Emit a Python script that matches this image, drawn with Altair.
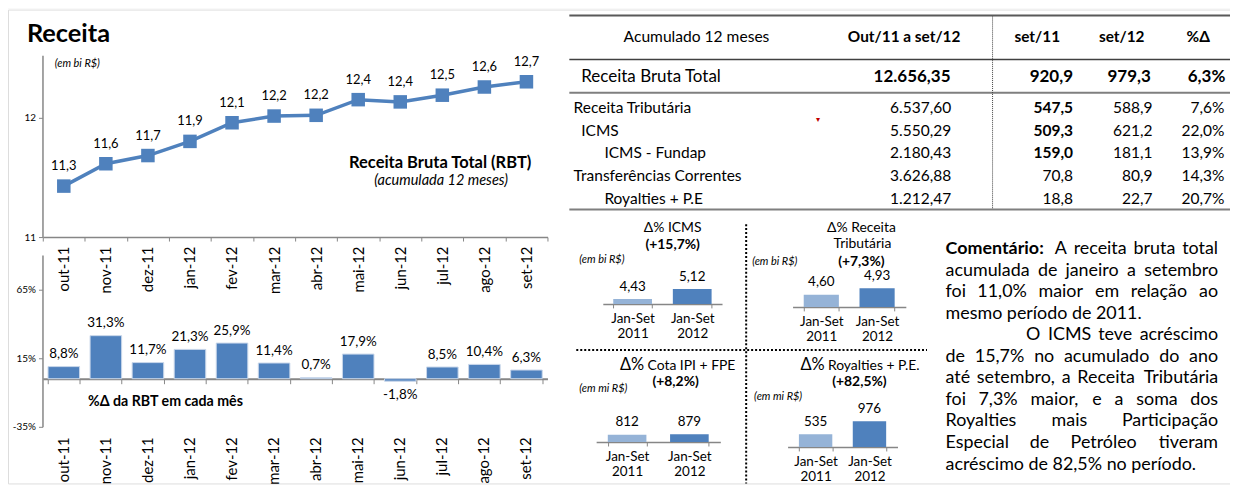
import unicodedata
import altair as alt
import pandas as pd

# ---------------- data ----------------
months = ['out-11', 'nov-11', 'dez-11', 'jan-12', 'fev-12', 'mar-12',
          'abr-12', 'mai-12', 'jun-12', 'jul-12', 'ago-12', 'set-12']
rbt_12m = [11.28, 11.58, 11.69, 11.88, 12.13, 12.22, 12.23, 12.44, 12.41, 12.50, 12.61, 12.68]
var_mes = [8.8, 31.3, 11.7, 21.3, 25.9, 11.4, 0.7, 17.9, -1.8, 8.5, 10.4, 6.3]

periodos = ['Jan-Set 2011', 'Jan-Set 2012']
icms_ac = [4.43, 5.12]
trib_ac = [4.60, 4.93]
cota_ac = [812, 879]
roy_ac = [535, 976]

tab_rows = ['Receita Tributária', 'ICMS', 'ICMS - Fundap', 'Transferências Correntes', 'Royalties + P.E']
tab_level = [0, 1, 2, 0, 2]
tab_acum = [6537.60, 5550.29, 2180.43, 3626.88, 1212.47]
tab_set11 = [547.5, 509.3, 159.0, 70.8, 18.8]
tab_set12 = [588.9, 621.2, 181.1, 80.9, 22.7]
tab_pct = [7.6, 22.0, 13.9, 14.3, 20.7]
total_vals = [12656.35, 920.9, 979.3, 6.3]

comment_text = [
    'Comentário: A receita bruta total',
    'acumulada de janeiro a setembro',
    'foi 11,0% maior em relação ao',
    'mesmo período de 2011.',
    'O ICMS teve acréscimo',
    'de 15,7% no acumulado do ano',
    'até setembro, a Receita Tributária',
    'foi 7,3% maior, e a soma dos',
    'Royalties mais Participação',
    'Especial de Petróleo tiveram',
    'acréscimo de 82,5% no período.',
]

# ---------------- layout helpers ----------------
W, H = 1230, 477
FONT = 'Lato'
BLUE = '#4F81BD'
LIGHT = '#95B3D7'
AXC = '#868686'


def sx(v):
    return v - 8


def sy(v):
    return v - 8


def off_b(y):
    return -(H - sy(y))


def off_l(x):
    return -sx(x)


def br(v, d):
    s = f"{v:,.{d}f}"
    return s.replace(',', '#').replace('.', ',').replace('#', '.')


one = pd.DataFrame({'k': [0]})


def txt(s, x, y, size=13, weight='normal', style='normal', align='left',
        baseline='middle', color='black', font=FONT):
    return alt.Chart(one).mark_text(
        text=s, font=font, fontSize=size, fontWeight=weight, fontStyle=style,
        align=align, baseline=baseline, color=color
    ).encode(x=alt.value(sx(x)), y=alt.value(sy(y)))


def hrule(x1, x2, y, color, width, dash=None):
    kw = dict(color=color, strokeWidth=width)
    if dash:
        kw['strokeDash'] = dash
    return alt.Chart(one).mark_rule(**kw).encode(
        x=alt.value(sx(x1)), x2=alt.value(sx(x2)), y=alt.value(sy(y)))


def vrule(x, y1, y2, color, width, dash=None):
    kw = dict(color=color, strokeWidth=width)
    if dash:
        kw['strokeDash'] = dash
    return alt.Chart(one).mark_rule(**kw).encode(
        x=alt.value(sx(x)), y=alt.value(sy(y1)), y2=alt.value(sy(y2)))


ax_common = dict(title=None, grid=False, labelFont=FONT, labelColor='black',
                 domainColor=AXC, tickColor=AXC)

# ---------------- line chart (RBT 12 meses) ----------------
line_df = pd.DataFrame({'mes': months, 'v': rbt_12m})
line_df['lbl'] = [br(v, 1) for v in rbt_12m]
x_line = alt.X('mes:N', bandPosition=0.5,
               scale=alt.Scale(type='band', domain=months, range=[sx(43), sx(551)],
                               paddingInner=0, paddingOuter=0),
               axis=alt.Axis(orient='bottom', offset=off_b(237), labelAngle=-90,
                             labelFontSize=15, labelPadding=5, tickBand='extent',
                             tickSize=4, domainWidth=1.5, **ax_common))
y_line = alt.Y('v:Q',
               scale=alt.Scale(domain=[10.596, 13.036], range=[sy(237), sy(54)],
                               zero=False, nice=False),
               axis=alt.Axis(orient='left', offset=off_l(42.7), values=[10.596, 12.2],
                             labelExpr="datum.value < 11.5 ? '11' : '12'",
                             labelFontSize=10, tickSize=4, labelPadding=3,
                             domainWidth=1.5, **ax_common))
base_line = alt.Chart(line_df).encode(x=x_line, y=y_line)
line_child = alt.layer(
    base_line.mark_line(color=BLUE, strokeWidth=3.5),
    base_line.mark_point(shape='square', filled=True, size=185, color=BLUE, opacity=1),
    base_line.mark_text(dy=-20, fontSize=13, font=FONT, color='black').encode(text='lbl:N'),
)

# ---------------- monthly bars ----------------
bar_df = pd.DataFrame({'mes': months, 'v': var_mes})
bar_df['lbl'] = [br(v, 1) + '%' for v in var_mes]
xb_scale = alt.Scale(type='band', domain=months, range=[sx(43), sx(551)],
                     paddingInner=0.25, paddingOuter=0.125)
yb_scale = alt.Scale(domain=[-35, 90], range=[sy(428), sy(255)], zero=False, nice=False)
bars_child = alt.Chart(bar_df).mark_bar(color=BLUE, stroke='#C9D7EA', strokeWidth=1).encode(
    x=alt.X('mes:N', scale=xb_scale,
            axis=alt.Axis(orient='bottom', offset=off_b(379.6), labels=False,
                          tickBand='extent', tickSize=5, domainWidth=2, **ax_common)),
    y=alt.Y('v:Q', scale=yb_scale,
            axis=alt.Axis(orient='left', offset=off_l(42.7), values=[-35, 15, 65],
                          labelExpr="datum.value + '%'", labelFontSize=10, tickSize=4,
                          labelPadding=3, domainWidth=1.5, **ax_common)),
    y2=alt.datum(0),
)
lab_base = alt.Chart(bar_df).encode(
    x=alt.X('mes:N', bandPosition=0.5, scale=xb_scale,
            axis=alt.Axis(orient='bottom', offset=off_b(428), labelAngle=-90,
                          labelFontSize=15, labelPadding=10, domain=False, ticks=False,
                          **ax_common)),
    y=alt.Y('v:Q', scale=yb_scale, axis=None),
    text='lbl:N',
)
bar_lab_child = alt.layer(
    lab_base.transform_filter('datum.v >= 0').mark_text(dy=-12.5, fontSize=13.5, font=FONT, color='black'),
    lab_base.transform_filter('datum.v < 0').mark_text(dy=14, fontSize=13.5, font=FONT, color='black'),
)


# ---------------- small quadrant charts ----------------
def quad(vals, dec, x0, x1, pi, po, base, dom, hpx):
    df = pd.DataFrame({'per': periodos, 'v': vals})
    df['lbl'] = [br(v, dec) for v in vals]
    xs = alt.Scale(type='band', domain=periodos, range=[sx(x0), sx(x1)],
                   paddingInner=pi, paddingOuter=po)
    ys = alt.Scale(domain=dom, range=[sy(base), sy(base) - hpx], zero=False, nice=False)
    ax = alt.Axis(orient='bottom', offset=off_b(base), labelAngle=0,
                  labelExpr="split(datum.label, ' ')", labelLineHeight=15,
                  labelFontSize=13.5, labelPadding=4, tickBand='extent', tickSize=4,
                  domainWidth=1.5, **ax_common)
    bars = alt.Chart(df).mark_bar().encode(
        x=alt.X('per:N', scale=xs, axis=ax),
        y=alt.Y('v:Q', scale=ys, axis=None),
        y2=alt.datum(dom[0]),
        color=alt.Color('per:N', scale=alt.Scale(domain=periodos, range=[LIGHT, BLUE]), legend=None),
    )
    labs = alt.Chart(df).mark_text(dy=-12.5, fontSize=13.5, font=FONT, color='black').encode(
        x=alt.X('per:N', bandPosition=0.5, scale=xs, axis=ax),
        y=alt.Y('v:Q', scale=ys, axis=None),
        text='lbl:N',
    )
    return alt.layer(bars, labs)


q1 = quad(icms_ac, 2, 606.7, 726.7, 0.35, 0.175, 304.3, [4.09, 6.09], 29)
q2 = quad(trib_ac, 2, 797.7, 911.7, 0.37, 0.2, 307.3, [4.0, 5.0], 20.3)
q3 = quad(cota_ac, 0, 600, 725, 0.38, 0.187, 443.3, [0, 1000], 9)
q4 = quad(roy_ac, 0, 792.7, 903.3, 0.38, 0.21, 448.3, [100, 1100], 29.5)

# ---------------- table ----------------
tab_df = pd.DataFrame({
    'row': tab_rows, 'nivel': tab_level, 'ordem': list(range(len(tab_rows))),
    'acum': [br(v, 2) for v in tab_acum],
    's11': [br(v, 1) for v in tab_set11],
    's12': [br(v, 1) for v in tab_set12],
    'pct': [br(v, 1) + '%' for v in tab_pct],
})
y_tab = alt.Y('row:N', scale=alt.Scale(type='point', domain=tab_rows,
                                       range=[sy(106.7), sy(199)], padding=0), axis=None)
tb = alt.Chart(tab_df).encode(y=y_tab)
tcell = dict(font=FONT, fontSize=15.6, color='black', baseline='middle')
table_child = alt.layer(
    tb.transform_filter('datum.nivel == 0').mark_text(align='left', **tcell).encode(x=alt.value(sx(577.3)), text='row:N'),
    tb.transform_filter('datum.nivel == 1').mark_text(align='left', **tcell).encode(x=alt.value(sx(585)), text='row:N'),
    tb.transform_filter('datum.nivel == 2').mark_text(align='left', **tcell).encode(x=alt.value(sx(608.3)), text='row:N'),
    tb.mark_text(align='right', **tcell).encode(x=alt.value(sx(957.3)), text='acum:N'),
    tb.transform_filter('datum.ordem < 3').mark_text(align='right', fontWeight='bold', **tcell).encode(x=alt.value(sx(1080)), text='s11:N'),
    tb.transform_filter('datum.ordem >= 3').mark_text(align='right', **tcell).encode(x=alt.value(sx(1080)), text='s11:N'),
    tb.mark_text(align='right', **tcell).encode(x=alt.value(sx(1160)), text='s12:N'),
    tb.mark_text(align='right', **tcell).encode(x=alt.value(sx(1232.3)), text='pct:N'),
)

# ---------------- comment (justified text, laid out word by word) ----------------
CFS = 18
L_EDGE, R_EDGE = 951.7, 1226
line_y0, line_dy = 249.3, 21.67
line_start = [951.7, 951.7, 951.7, 951.7, 1032.7, 951.7, 951.7, 951.7, 951.7, 951.7, 951.7]
line_just = [True, True, True, False, True, True, True, True, True, True, False]

# approximate advance widths of Lato (em units) for the layout of justified lines
_W = dict(zip('abcdefghijklmnopqrstuvwxyz',
              [.505, .561, .459, .561, .521, .322, .505, .555, .243, .243, .503, .243, .830,
               .555, .559, .552, .561, .371, .422, .352, .555, .505, .765, .495, .505, .447]))
_W.update(dict(zip('ABCDEFGHIJKLMNOPQRSTUVWXYZ',
                   [.681, .625, .661, .736, .556, .535, .715, .750, .283, .383, .648, .482, .904,
                    .750, .791, .588, .791, .614, .513, .578, .721, .681, 1.024, .652, .620, .601])))
_W.update({c: .580 for c in '0123456789'})
_W.update({',': .232, '.': .232, '%': .793, ':': .256})


def est_w(word, bold=False):
    tot = 0.0
    for ch in word:
        b = unicodedata.normalize('NFD', ch)[0]
        tot += _W.get(b, .55)
    return tot * CFS * (1.06 if bold else 1.0)


rows = []
for i, line in enumerate(comment_text):
    y = sy(line_y0 + i * line_dy)
    x0 = line_start[i]
    if not line_just[i]:
        rows.append({'w': line, 'px': sx(x0), 'py': y, 'al': 'left', 'wt': 'normal'})
        continue
    words = line.split(' ')
    bolds = [w == 'Comentário:' for w in words]
    widths = [est_w(w, b) for w, b in zip(words, bolds)]
    gap = (R_EDGE - x0 - sum(widths)) / (len(words) - 1)
    cur = x0
    for j, (w, b, wd) in enumerate(zip(words, bolds, widths)):
        wt = 'bold' if b else 'normal'
        if j == len(words) - 1:
            rows.append({'w': w, 'px': sx(R_EDGE), 'py': y, 'al': 'right', 'wt': wt})
        else:
            rows.append({'w': w, 'px': sx(cur), 'py': y, 'al': 'left', 'wt': wt})
        cur += wd + gap
com_df = pd.DataFrame(rows)
cb = alt.Chart(com_df).encode(x=alt.X('px:Q', scale=None, axis=None),
                              y=alt.Y('py:Q', scale=None, axis=None), text='w:N')
ccell = dict(font=FONT, fontSize=CFS, color='black', baseline='middle')
comment_child = alt.layer(
    cb.transform_filter("datum.al == 'left' && datum.wt == 'normal'").mark_text(align='left', **ccell),
    cb.transform_filter("datum.al == 'left' && datum.wt == 'bold'").mark_text(align='left', fontWeight='bold', **ccell),
    cb.transform_filter("datum.al == 'right'").mark_text(align='right', **ccell),
)

# ---------------- annotations and lines ----------------
annots = [
    # borders
    hrule(6, 1238, 6, '#A6A6A6', 1),
    vrule(6, 6, 485, '#A6A6A6', 1),
    # left panel texts
    txt('Receita', 27, 41, 25.5, 'bold', baseline='alphabetic'),
    txt('(em bi R$)', 55, 63, 11, style='italic'),
    txt('Receita Bruta Total (RBT)', 443, 162, 16.6, 'bold', align='center'),
    txt('(acumulada  12 meses)', 444, 181, 14.6, style='italic', align='center'),
    txt('%Δ da RBT em cada mês', 166.5, 403.3, 14.3, 'bold', align='center'),
    # table lines
    hrule(573, 1238, 14, '#595959', 2),
    hrule(573, 1238, 58.3, '#404040', 1.5),
    hrule(573, 1238, 91.7, '#7F7F7F', 2),
    hrule(573, 1238, 209.3, '#7F7F7F', 2),
    vrule(999, 15, 209, '#404040', 1, [1, 1]),
    # table header
    txt('Acumulado 12 meses', 701, 36, 15.7, align='center'),
    txt('Out/11 a set/12', 910, 36, 15.5, 'bold', align='center'),
    txt('set/11', 1044, 36, 15.5, 'bold', align='center'),
    txt('set/12', 1129, 36, 15.5, 'bold', align='center'),
    txt('%Δ', 1206, 36, 15.5, 'bold', align='center'),
    # total row
    txt('Receita Bruta Total', 585, 76, 17.1),
    txt(br(total_vals[0], 2), 956.7, 76, 17.1, 'bold', align='right'),
    txt(br(total_vals[1], 1), 1080, 76, 17.1, 'bold', align='right'),
    txt(br(total_vals[2], 1), 1158.3, 76, 17.1, 'bold', align='right'),
    txt(br(total_vals[3], 1) + '%', 1233.3, 76, 17.1, 'bold', align='right'),
    txt('▾', 823, 119, 8, color='#C00000', align='center'),
    # quadrant dividers
    vrule(751, 224, 485, 'black', 2, [2, 2]),
    hrule(580, 933, 350.7, 'black', 2, [2, 2]),
    # quadrant titles
    txt('Δ% ICMS', 677, 228.3, 14, align='center'),
    txt('(+15,7%)', 677, 245, 14, 'bold', align='center'),
    txt('(em bi R$)', 583, 260, 11, style='italic'),
    txt('Δ% Receita', 867, 228.3, 14, align='center'),
    txt('Tributária', 868, 244.3, 14, align='center'),
    txt('(+7,3%)', 867, 261.7, 14, 'bold', align='center'),
    txt('(em bi R$)', 757, 262.3, 11, style='italic'),
    txt('Δ%', 648.3, 366, 16.5, align='right'),
    txt('Cota IPI + FPE', 651.7, 367, 14),
    txt('(+8,2%)', 680, 383.3, 14, 'bold', align='center'),
    txt('(em mi R$)', 583, 390, 11, style='italic'),
    txt('Δ%', 830, 366, 16.5, align='right'),
    txt('Royalties + P.E.', 833.3, 367, 14),
    txt('(+82,5%)', 865, 383.3, 14, 'bold', align='center'),
    txt('(em mi R$)', 759, 397.7, 11, style='italic'),
]

chart = alt.layer(
    *annots, line_child, bars_child, bar_lab_child, q1, q2, q3, q4, table_child, comment_child
).resolve_scale(
    x='independent', y='independent'
).properties(
    width=W, height=H, padding=0, autosize=alt.AutoSizeParams(type='none')
).configure_view(
    strokeOpacity=0
).configure(background='white')

chart.save("out.html", embed_options={"renderer": "svg", "actions": False})
